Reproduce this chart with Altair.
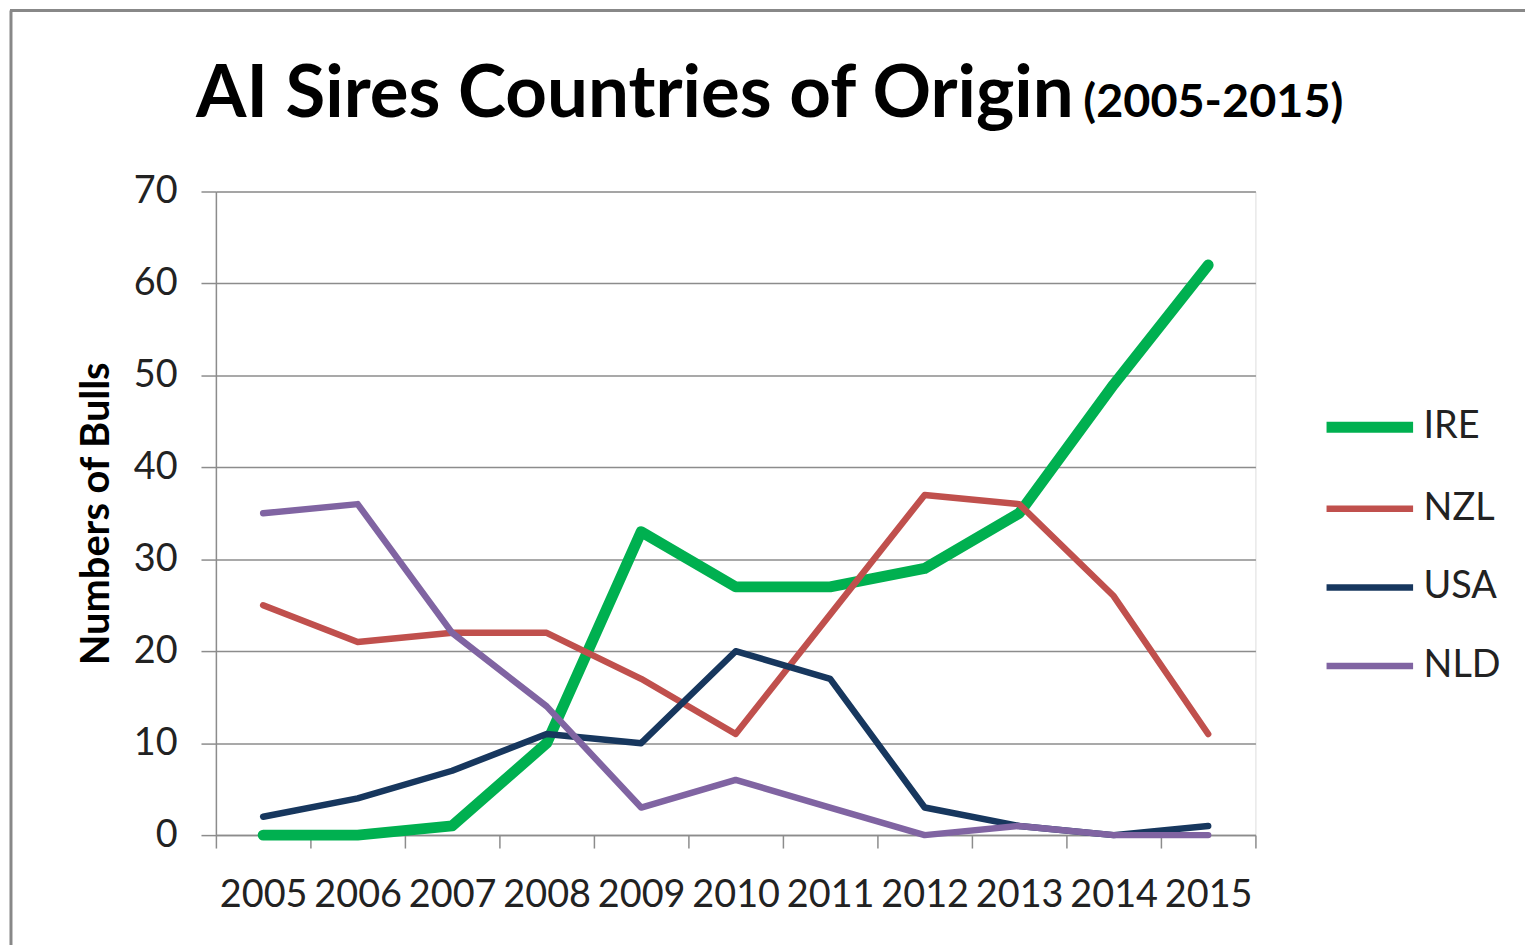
import altair as alt
import pandas as pd

years = [str(y) for y in range(2005, 2016)]
countries = ["IRE", "NZL", "USA", "NLD"]
ire = [0, 0, 1, 10, 33, 27, 27, 29, 35, 49, 62]
nzl = [25, 21, 22, 22, 17, 11, 24, 37, 36, 26, 11]
usa = [2, 4, 7, 11, 10, 20, 17, 3, 1, 0, 1]
nld = [35, 36, 22, 14, 3, 6, 3, 0, 1, 0, 0]
colors = ["#00B050", "#C0504D", "#17375E", "#8064A2"]
widths = [11, 6.5, 6.5, 6.5]
title_main = "AI Sires Countries of Origin"
title_sub = "(2005-2015)"
y_title = "Numbers of Bulls"
y_ticks = list(range(0, 71, 10))

series = {"IRE": ire, "NZL": nzl, "USA": usa, "NLD": nld}
rows = []
for c in countries:
    for yr, v in zip(years, series[c]):
        rows.append({"year": yr, "country": c, "bulls": v})
df = pd.DataFrame(rows)

FONT = "Lato"
GRID = "#8c8c8c"
W, H = 1045, 647

legend = alt.Legend(
    title=None, orient="none", legendX=1111, legendY=188,
    symbolType="stroke", symbolSize=7569, labelFontSize=38, labelFont=FONT,
    labelColor="#222222", labelOffset=5, rowPadding=13,
)

lines = alt.Chart(df).mark_line(strokeCap="round", strokeJoin="round").encode(
    x=alt.X("year:O", sort=years,
            scale=alt.Scale(type="band", paddingInner=0, paddingOuter=0, round=False),
            axis=alt.Axis(title=None, tickBand="extent", labelAngle=0,
                          labelFontSize=38, labelFont=FONT, labelColor="#222222",
                          labelPadding=29, tickSize=13, tickColor=GRID, tickWidth=1.5,
                          domainColor=GRID, domainWidth=1.5, grid=False)),
    y=alt.Y("bulls:Q", scale=alt.Scale(domain=[0, 70], nice=False),
            axis=alt.Axis(values=y_ticks, title=y_title, titleFont=FONT,
                          titleFontSize=40, titleFontWeight="bold", titleColor="#000000",
                          titlePadding=17,
                          labelFontSize=38, labelFont=FONT, labelColor="#222222",
                          labelPadding=24, tickSize=15, tickColor=GRID, tickWidth=1.5,
                          domainColor=GRID, domainWidth=1.5,
                          grid=True, gridColor=GRID, gridWidth=1.5)),
    color=alt.Color("country:N", sort=countries,
                    scale=alt.Scale(domain=countries, range=colors), legend=legend),
    strokeWidth=alt.StrokeWidth("country:N", sort=countries,
                                scale=alt.Scale(type="ordinal", domain=countries, range=widths),
                                legend=legend),
    order=alt.Order("year:O"),
)

tdf = pd.DataFrame({"main": [title_main], "sub": [title_sub]})
t1 = alt.Chart(tdf).mark_text(font=FONT, fontSize=73, fontWeight="bold", align="left",
                              baseline="alphabetic", color="#000000").encode(
    text="main:N", x=alt.value(-20), y=alt.value(-75))
t2 = alt.Chart(tdf).mark_text(font=FONT, fontSize=47, fontWeight="bold", align="left",
                              baseline="alphabetic", color="#000000").encode(
    text="sub:N", x=alt.value(872), y=alt.value(-75))

frame_top = alt.Chart(tdf).mark_rule(color="#888888", strokeWidth=3).encode(
    x=alt.value(-207), x2=alt.value(1320), y=alt.value(-182))
frame_left = alt.Chart(tdf).mark_rule(color="#888888", strokeWidth=3).encode(
    x=alt.value(-206), y=alt.value(-182), y2=alt.value(760))

chart = alt.layer(frame_top, frame_left, lines, t1, t2).properties(
    width=W, height=H,
    autosize=alt.AutoSizeParams(type="none"),
    padding={"left": 209, "top": 182, "right": 271, "bottom": 108},
).configure_view(stroke=None).configure(background="white")

chart.save("out.html", embed_options={"renderer": "svg", "actions": False})
